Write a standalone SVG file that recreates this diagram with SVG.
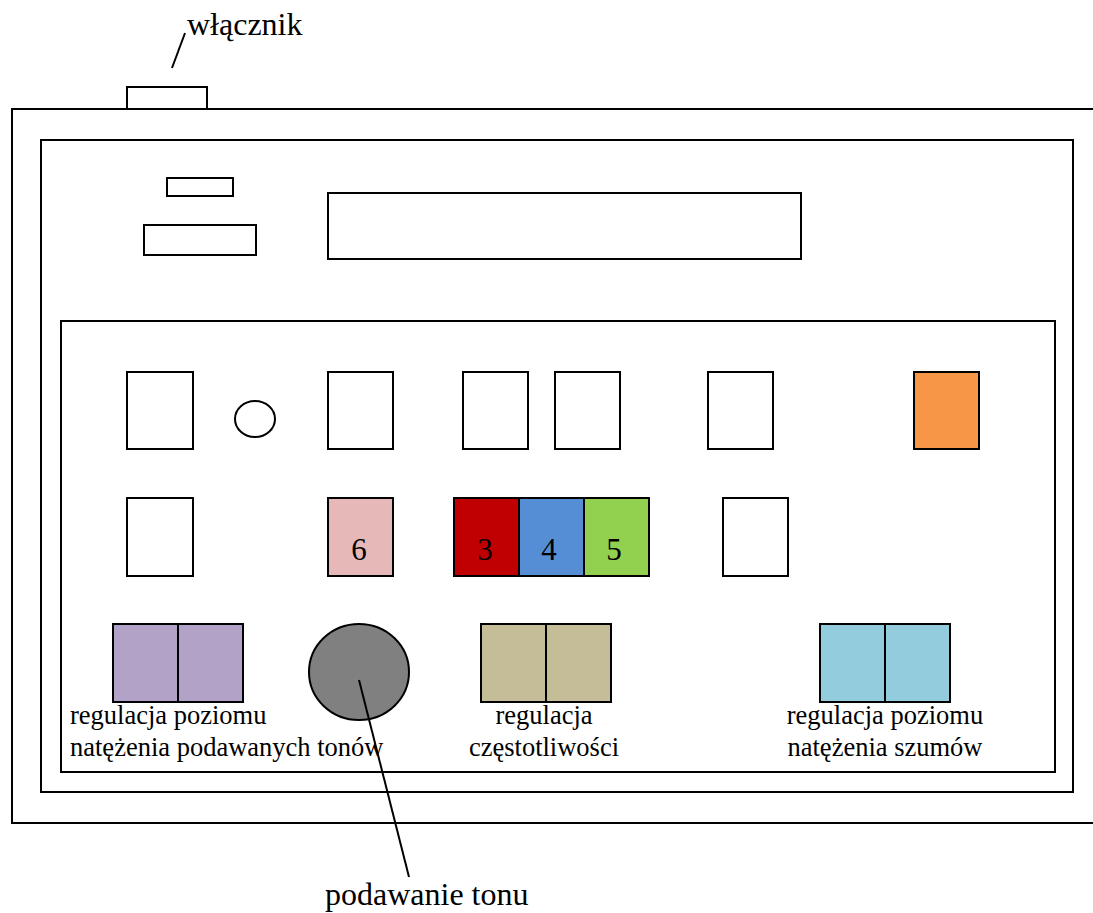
<svg xmlns="http://www.w3.org/2000/svg" width="1093" height="913" viewBox="0 0 1093 913">
<style>
.o{fill:none;stroke:#000;stroke-width:2}
.b{fill:#fff;stroke:#000;stroke-width:2}
.t{font-family:"Liberation Serif","Times New Roman",serif;fill:#000}
.big{font-size:32px}
.lab{font-size:26.5px}
.dig{font-size:31px;text-anchor:middle}
.c{text-anchor:middle}
.ln{stroke:#000;stroke-width:2;fill:none}
</style>
<rect width="1093" height="913" fill="#fff"/>
<g id="housing">
<rect class="o" x="12" y="109" width="1100" height="714"/>
<rect class="o" x="41" y="140" width="1032" height="652"/>
<rect class="o" x="61" y="321" width="994" height="451"/>
</g>
<g id="switch"><rect class="b" x="127" y="87" width="80" height="22"/></g>
<g id="small1"><rect class="b" x="167" y="178" width="66" height="18"/></g>
<g id="small2"><rect class="b" x="144" y="225" width="112" height="30"/></g>
<g id="display"><rect class="b" x="328" y="193" width="473" height="66"/></g>
<g id="r1b1"><rect class="b" x="127" y="372" width="66" height="77"/></g>
<g id="r1circle"><ellipse class="b" cx="255" cy="419" rx="20" ry="18"/></g>
<g id="r1b2"><rect class="b" x="328" y="372" width="65" height="77"/></g>
<g id="r1b3"><rect class="b" x="463" y="372" width="65" height="77"/></g>
<g id="r1b4"><rect class="b" x="555" y="372" width="65" height="77"/></g>
<g id="r1b5"><rect class="b" x="708" y="372" width="65" height="77"/></g>
<g id="r1orange"><rect x="914" y="372" width="65" height="77" fill="#f79646" stroke="#000" stroke-width="2"/></g>
<g id="r2b1"><rect class="b" x="127" y="498" width="66" height="78"/></g>
<g id="b6"><rect x="328" y="498" width="65" height="78" fill="#e6b9b8" stroke="#000" stroke-width="2"/><text class="t dig" x="359" y="560">6</text></g>
<g id="b3"><rect x="454" y="498" width="65" height="78" fill="#c00000" stroke="#000" stroke-width="2"/><text class="t dig" x="485" y="560">3</text></g>
<g id="b4"><rect x="519" y="498" width="65" height="78" fill="#558ed5" stroke="#000" stroke-width="2"/><text class="t dig" x="549" y="560">4</text></g>
<g id="b5"><rect x="584" y="498" width="65" height="78" fill="#92d050" stroke="#000" stroke-width="2"/><text class="t dig" x="614" y="560">5</text></g>
<g id="r2b5"><rect class="b" x="723" y="498" width="65" height="78"/></g>
<g id="tonelevel">
<rect x="113" y="624" width="130" height="78" fill="#b3a2c7" stroke="#000" stroke-width="2"/>
<line class="ln" x1="178" y1="624" x2="178" y2="702"/>
<text class="t lab" x="70" y="724">regulacja poziomu</text>
<text class="t lab" x="70" y="756">natężenia podawanych tonów</text>
</g>
<g id="tonebutton"><ellipse cx="359" cy="672" rx="50" ry="48" fill="#808080" stroke="#000" stroke-width="2"/></g>
<g id="frequency">
<rect x="481" y="624" width="130" height="78" fill="#c4bd97" stroke="#000" stroke-width="2"/>
<line class="ln" x1="546" y1="624" x2="546" y2="702"/>
<text class="t lab c" x="544" y="724">regulacja</text>
<text class="t lab c" x="544" y="756">częstotliwości</text>
</g>
<g id="noise">
<rect x="820" y="624" width="130" height="78" fill="#93cddd" stroke="#000" stroke-width="2"/>
<line class="ln" x1="885" y1="624" x2="885" y2="702"/>
<text class="t lab c" x="885" y="724">regulacja poziomu</text>
<text class="t lab c" x="885" y="756">natężenia szumów</text>
</g>
<g id="connectors">
<line class="ln" x1="172" y1="68" x2="185" y2="33"/>
<line class="ln" x1="359" y1="680" x2="409" y2="877"/>
</g>
<g id="labels">
<text class="t big" x="187" y="35">włącznik</text>
<text class="t big" x="325" y="905">podawanie tonu</text>
</g>
</svg>
